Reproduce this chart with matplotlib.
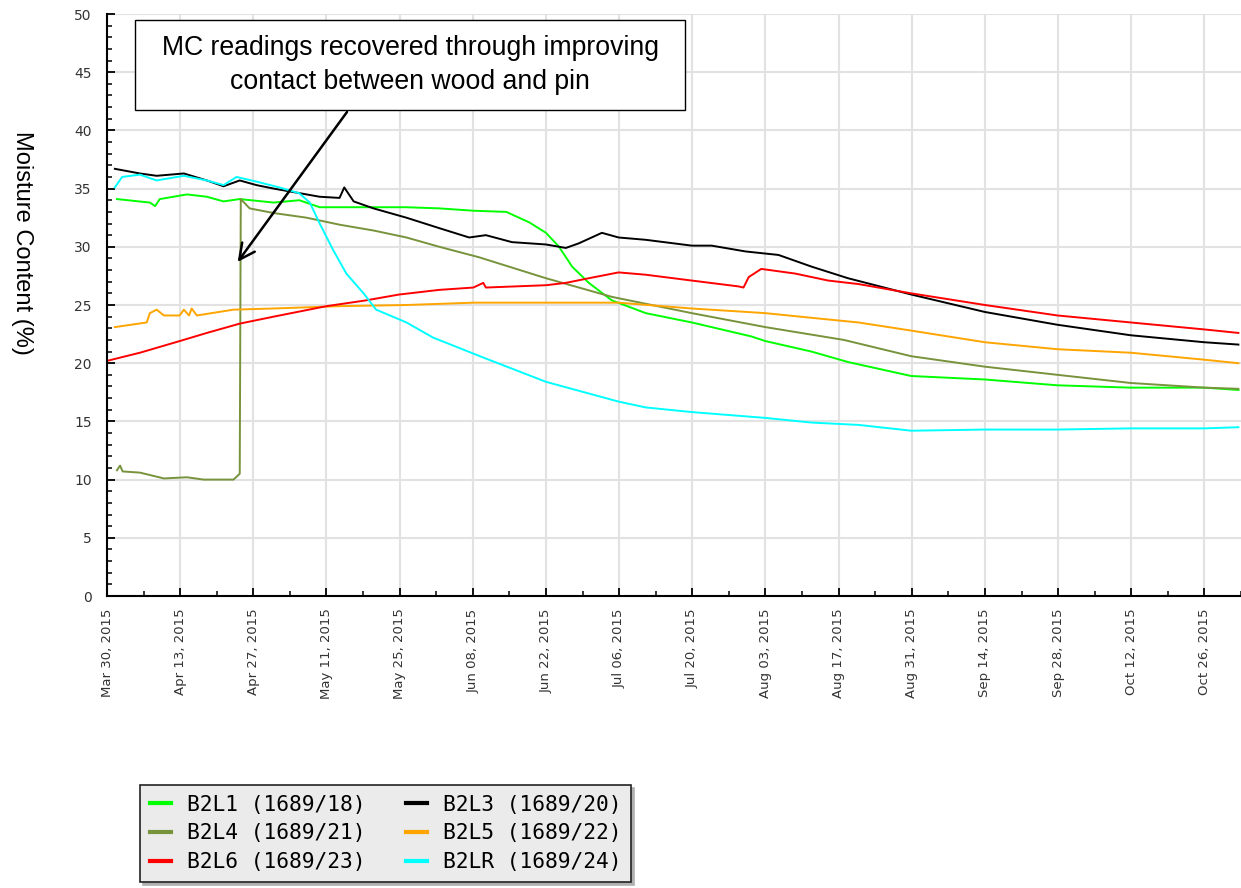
import numpy as np
import pandas as pd
import matplotlib
matplotlib.use('Agg')
import matplotlib.pyplot as plt
import matplotlib.dates as mdates
from matplotlib.patches import Rectangle
from matplotlib.font_manager import FontProperties

# days after Mar 30, 2015 and moisture content (%)
start = pd.Timestamp('2015-03-30')

l1_days = [1.9, 8.2, 9.2, 10.1, 15.3, 19.1, 22.3, 25.4, 31.9, 36.8, 40.7, 51.0, 57.3, 63.6, 70.1,
           76.4, 80.8, 84.0, 86.5, 89.0, 92.2, 96.6, 103.1, 111.9, 123.3, 126.0, 134.8, 141.8,
           153.9, 168.0, 181.9, 195.9, 210.0, 216.5]
l1_vals = [34.1, 33.8, 33.5, 34.1, 34.5, 34.3, 33.9, 34.1, 33.8, 34.0, 33.4, 33.4, 33.4, 33.3, 33.1,
           33.0, 32.1, 31.2, 30.0, 28.3, 26.9, 25.4, 24.3, 23.5, 22.3, 21.9, 21.0, 20.1,
           18.9, 18.6, 18.1, 17.9, 17.9, 17.7]

l3_days = [1.5, 6.3, 9.5, 14.7, 19.1, 22.3, 25.4, 28.6, 31.9, 35.7, 40.7, 44.5, 45.4, 47.2, 51.0,
           57.3, 63.6, 69.3, 72.5, 77.5, 84.0, 87.8, 90.3, 94.7, 97.9, 103.1, 111.9, 115.7, 122.2,
           128.5, 134.8, 141.8, 153.9, 168.0, 181.9, 195.9, 210.0, 216.5]
l3_vals = [36.7, 36.3, 36.1, 36.3, 35.7, 35.2, 35.7, 35.3, 35.0, 34.7, 34.3, 34.2, 35.1, 33.9, 33.3,
           32.5, 31.6, 30.8, 31.0, 30.4, 30.2, 29.9, 30.3, 31.2, 30.8, 30.6, 30.1, 30.1, 29.6,
           29.3, 28.3, 27.3, 25.9, 24.4, 23.3, 22.4, 21.8, 21.6]

l4_days = [1.9, 2.5, 3.0, 6.3, 10.9, 15.3, 18.5, 24.2, 25.4, 25.6, 27.3, 31.9, 38.2, 44.5, 51.0,
           57.3, 63.6, 71.2, 84.0, 96.6, 111.9, 126.0, 141.0, 153.9, 168.0, 181.9, 195.9, 210.0, 216.5]
l4_vals = [10.8, 11.2, 10.7, 10.6, 10.1, 10.2, 10.0, 10.0, 10.5, 34.1, 33.3, 32.9, 32.5, 31.9, 31.4,
           30.8, 30.0, 29.1, 27.3, 25.7, 24.3, 23.1, 22.0, 20.6, 19.7, 19.0, 18.3, 17.9, 17.8]

l5_days = [1.5, 7.6, 8.2, 9.5, 10.9, 13.9, 14.7, 15.7, 16.2, 17.2, 24.2, 31.9, 44.5, 57.3, 70.1,
           90.3, 97.9, 111.9, 126.0, 134.8, 143.8, 153.9, 168.0, 181.9, 195.9, 210.0, 216.5]
l5_vals = [23.1, 23.5, 24.3, 24.6, 24.1, 24.1, 24.6, 24.1, 24.7, 24.1, 24.6, 24.7, 24.9, 25.0, 25.2,
           25.2, 25.2, 24.7, 24.3, 23.9, 23.5, 22.8, 21.8, 21.2, 20.9, 20.3, 20.0]

l6_days = [0.0, 6.3, 13.9, 19.1, 25.4, 31.9, 42.0, 49.6, 55.9, 63.6, 70.1, 72.0, 72.5, 84.0, 87.8,
           92.2, 97.9, 103.1, 111.9, 120.8, 121.8, 122.8, 125.2, 131.7, 138.0, 143.8, 153.9,
           168.0, 181.9, 195.9, 210.0, 216.5]
l6_vals = [20.2, 20.9, 21.9, 22.6, 23.4, 24.0, 24.9, 25.4, 25.9, 26.3, 26.5, 26.9, 26.5, 26.7, 26.9,
           27.3, 27.8, 27.6, 27.1, 26.6, 26.5, 27.4, 28.1, 27.7, 27.1, 26.8, 26.0,
           25.0, 24.1, 23.5, 22.9, 22.6]

lr_days = [1.5, 2.9, 6.3, 9.5, 14.7, 19.1, 22.3, 24.8, 28.6, 33.0, 36.8, 38.8, 40.7, 43.3, 45.8,
           49.1, 51.5, 57.3, 62.4, 72.5, 84.0, 97.9, 103.1, 111.9, 126.0, 134.8, 143.8, 153.9,
           168.0, 181.9, 195.9, 210.0, 216.5]
lr_vals = [35.1, 36.0, 36.2, 35.7, 36.1, 35.7, 35.3, 36.0, 35.6, 35.1, 34.6, 33.8, 32.0, 29.7, 27.7,
           26.0, 24.6, 23.5, 22.2, 20.4, 18.4, 16.7, 16.2, 15.8, 15.3, 14.9, 14.7, 14.2,
           14.3, 14.3, 14.4, 14.4, 14.5]

labels = ['B2L1 (1689/18)', 'B2L3 (1689/20)', 'B2L4 (1689/21)',
          'B2L5 (1689/22)', 'B2L6 (1689/23)', 'B2LR (1689/24)']
colors = ['#00ff00', '#000000', '#77933c', '#ffa500', '#ff0000', '#00ffff']
series = [(l1_days, l1_vals), (l3_days, l3_vals), (l4_days, l4_vals),
          (l5_days, l5_vals), (l6_days, l6_vals), (lr_days, lr_vals)]

arrow_day, arrow_val = 25.0, 28.7
note = 'MC readings recovered through improving\ncontact between wood and pin'


def to_dates(days):
    return start + pd.to_timedelta(np.array(days), unit='D')


W, H = 1241, 888
fig = plt.figure(figsize=(W / 100, H / 100), dpi=100)
ax = fig.add_axes([107 / W, 1 - 596 / H, (W - 107) / W, (596 - 14) / H])

lines = {}
for (d, v), lab, c in zip(series, labels, colors):
    ln, = ax.plot(to_dates(d), v, color=c, lw=1.4, label=lab)
    lines[lab] = ln

ax.set_ylim(0, 50)
ax.set_xlim(start, start + pd.Timedelta(days=216.5))
ax.set_yticks(np.arange(0, 51, 5))
ax.set_yticks(np.arange(0, 51, 1), minor=True)
major = pd.date_range('2015-03-30', '2015-11-02', freq='14D')
minor = pd.date_range('2015-03-30', '2015-11-02', freq='7D')
ax.set_xticks(major)
ax.set_xticks(minor, minor=True)
ax.xaxis.set_major_formatter(mdates.DateFormatter('%b %d, %Y'))
plt.setp(ax.get_xticklabels(), rotation=90)

ax.grid(True, which='major', color='#e2e2e2', lw=1.5)
ax.set_axisbelow(True)
for s in ['top', 'right']:
    ax.spines[s].set_visible(False)
for s in ['left', 'bottom']:
    ax.spines[s].set_linewidth(1.5)
ax.tick_params(which='major', direction='in', length=6, width=1.3, labelsize=10,
               labelcolor='#333333')
ax.tick_params(which='minor', direction='in', length=3.5, width=1.1)
ax.tick_params(axis='y', pad=11)
ax.tick_params(axis='x', pad=9, labelsize=9.5)

fig.text(22 / W, 1 - 243 / H, 'Moisture Content (%)', rotation=270, ha='center', va='center',
         fontsize=17, family='Liberation Sans')

# annotation box and arrow
fig.add_artist(Rectangle((135 / W, 1 - 110 / H), 550 / W, 90 / H, transform=fig.transFigure,
                         facecolor='white', edgecolor='black', lw=1, zorder=5))
fig.text(410 / W, 1 - 65 / H, note, ha='center', va='center', fontsize=19.2,
         family='Liberation Sans', linespacing=1.4, zorder=6)
ax.annotate('', xy=(start + pd.Timedelta(days=arrow_day), arrow_val), xycoords='data',
            xytext=(347 / W, 1 - 112 / H), textcoords='figure fraction',
            arrowprops=dict(arrowstyle='->', lw=1.8, color='black', mutation_scale=28,
                            shrinkA=0, shrinkB=0),
            annotation_clip=False)

order = ['B2L1 (1689/18)', 'B2L4 (1689/21)', 'B2L6 (1689/23)',
         'B2L3 (1689/20)', 'B2L5 (1689/22)', 'B2LR (1689/24)']
leg = fig.legend([lines[k] for k in order], order, ncol=2, loc='upper left',
                 bbox_to_anchor=(140 / W, 1 - 785 / H), borderaxespad=0,
                 prop=FontProperties(family='DejaVu Sans Mono', size=15.3),
                 handlelength=1.0, handletextpad=0.75, columnspacing=1.9,
                 labelspacing=0.42, borderpad=0.45, fancybox=False,
                 shadow={'color': '#b0b0b0', 'alpha': 1})
leg.get_frame().set_facecolor('#ebebeb')
leg.get_frame().set_edgecolor('#222222')
leg.get_frame().set_linewidth(1.2)
leg.get_frame().set_alpha(1)
for h in leg.legend_handles:
    h.set_linewidth(3)

fig.savefig('out.png', dpi=100)
